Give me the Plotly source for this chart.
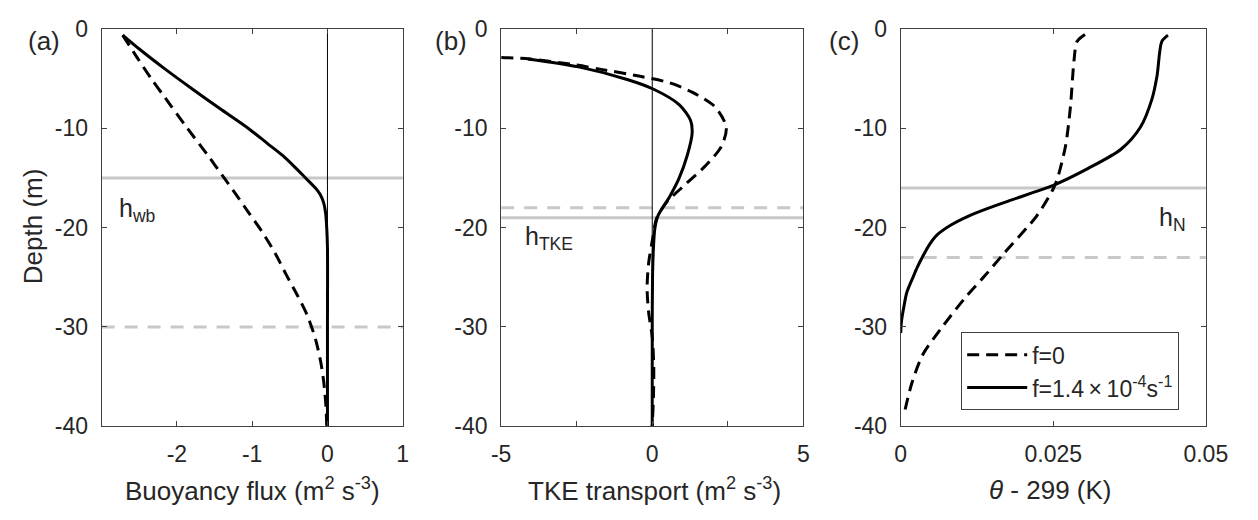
import plotly.graph_objects as go

# ---------------- data ----------------
# (a) buoyancy flux
depth_a_rot = [-0.6, -2.0, -4.0, -6.0, -8.0, -10.0, -11.5, -12.7, -14.0, -15.0, -16.0, -16.6, -17.5, -18.5, -20.0, -22.0, -30.0, -40.0]
bflux_rot = [-2.72, -2.50, -2.16, -1.80, -1.43, -1.05, -0.80, -0.60, -0.42, -0.29, -0.16, -0.10, -0.05, -0.025, -0.01, 0.0, 0.0, 0.0]
depth_a_f0 = [-0.6, -2.84, -5.0, -6.67, -10.0, -12.7, -14.8, -16.6, -18.5, -20.4, -22.5, -24.7, -26.8, -28.8, -31.2, -33.5, -35.5, -38.0, -40.0]
bflux_f0 = [-2.72, -2.53, -2.34, -2.18, -1.86, -1.59, -1.39, -1.22, -1.045, -0.87, -0.70, -0.55, -0.40, -0.27, -0.16, -0.09, -0.05, -0.02, -0.01]

# (b) TKE transport
depth_b_rot = [-3.0, -3.8, -5.07, -6.03, -7.6, -9.2, -10.5, -12.7, -15.0, -16.9, -18.8, -20.0, -22.0, -25.0, -30.0, -40.0]
tke_rot = [-4.11, -2.44, -0.83, 0.03, 0.89, 1.27, 1.32, 1.16, 0.89, 0.57, 0.19, 0.09, 0.04, 0.01, 0.0, 0.0]
depth_b_f0 = [-2.85, -3.0, -3.6, -4.05, -4.75, -5.4, -6.35, -7.8, -9.86, -11.8, -13.8, -15.6, -17.5, -19.1, -21.0, -23.6, -26.1, -28.5, -31.0, -34.0, -37.0, -40.0]
tke_f0 = [-5.0, -4.05, -2.55, -1.69, -0.40, 0.57, 1.32, 2.07, 2.45, 2.29, 1.75, 1.11, 0.46, 0.14, 0.02, -0.12, -0.17, -0.12, 0.0, 0.05, 0.04, 0.0]

# (c) potential temperature anomaly
depth_c_rot = [-0.6, -1.24, -4.75, -7.0, -9.86, -12.1, -14.0, -15.76, -16.5, -17.2, -18.0, -18.8, -19.7, -20.7, -21.7, -22.9, -24.0, -25.0, -26.5, -28.0, -29.5, -30.6]
theta_rot = [0.0438, 0.0428, 0.0420, 0.0412, 0.0393, 0.0361, 0.0308, 0.0249, 0.0215, 0.0182, 0.0145, 0.0112, 0.0083, 0.0060, 0.0047, 0.0036, 0.0027, 0.0020, 0.0010, 0.0005, 0.0001, 0.0]
depth_c_f0 = [-0.54, -1.24, -3.16, -7.9, -11.8, -15.0, -16.2, -18.8, -22.6, -24.9, -27.1, -30.0, -32.8, -35.7, -38.9]
theta_f0 = [0.0302, 0.0289, 0.0284, 0.0278, 0.0270, 0.0257, 0.0249, 0.0223, 0.0169, 0.0137, 0.0105, 0.0068, 0.0036, 0.0018, 0.0005]

# boundary-layer depths (solid: rotating, dashed: f=0)
h_wb = {"rot": -15.0, "f0": -30.0}
h_tke = {"rot": -19.0, "f0": -18.0}
h_n = {"rot": -16.0, "f0": -23.0}

y_ticks = [-40, -30, -20, -10, 0]
y_ticktext = ["-40", "-30", "-20", "-10", "0"]
xa_ticks = [-2, -1, 0, 1]
xa_ticktext = ["-2", "-1", "0", "1"]
xb_ticks = [-5, -2.5, 0, 2.5, 5]
xb_ticktext = ["-5", "", "0", "", "5"]
xc_ticks = [0, 0.025, 0.05]
xc_ticktext = ["0", "0.025", "0.05"]

legend_f0 = "f=0"
legend_rot = "f=1.4\u2009\u00d7\u200910<sup>-4</sup>s<sup>-1</sup>"

# ---------------- layout helpers ----------------
W, H = 1258, 520
def fx(px):
    return px / W
def fy(py):
    return 1 - py / H

FONT = "Liberation Sans, Arial, sans-serif"
TXT = "#262626"
AX = "#404040"
GRAY = "#c8c8c8"
LW = 3
DASH = "12px,7px"
GDASH = "13px,10px"

fig = go.Figure()

def curve(x, y, xa, ya, dashed, name, show):
    fig.add_trace(go.Scatter(
        x=x, y=y, xaxis=xa, yaxis=ya, mode="lines", name=name, showlegend=show,
        line=dict(color="black", width=LW, dash=DASH if dashed else "solid",
                  shape="spline", smoothing=0.8),
        hoverinfo="skip"))

curve(bflux_f0, depth_a_f0, "x", "y", True, legend_f0, False)
curve(bflux_rot, depth_a_rot, "x", "y", False, legend_rot, False)
curve(tke_f0, depth_b_f0, "x2", "y2", True, legend_f0, False)
curve(tke_rot, depth_b_rot, "x2", "y2", False, legend_rot, False)
curve(theta_f0, depth_c_f0, "x3", "y3", True, legend_f0, True)
curve(theta_rot, depth_c_rot, "x3", "y3", False, legend_rot, True)

# horizontal gray lines and zero lines
for xs, ys, hd in [("x", "y", h_wb), ("x2", "y2", h_tke), ("x3", "y3", h_n)]:
    fig.add_shape(type="line", xref=xs + " domain", yref=ys, x0=0, x1=1,
                  y0=hd["rot"], y1=hd["rot"], layer="below",
                  line=dict(color=GRAY, width=LW))
    fig.add_shape(type="line", xref=xs + " domain", yref=ys, x0=0, x1=1,
                  y0=hd["f0"], y1=hd["f0"], layer="below",
                  line=dict(color=GRAY, width=LW, dash=GDASH))
for xs, ys in [("x", "y"), ("x2", "y2")]:
    fig.add_shape(type="line", xref=xs, yref=ys + " domain", x0=0, x1=0,
                  y0=0, y1=1, layer="below", line=dict(color="black", width=1))

common_axis = dict(showline=True, linecolor=AX, linewidth=1, mirror="ticks",
                   ticks="inside", ticklen=5, tickcolor=AX, showgrid=False,
                   zeroline=False, tickfont=dict(family=FONT, size=23, color=TXT))

ydom = [fy(435), fy(17)]
doms = [[fx(94), fx(403)], [fx(504), fx(814)], [fx(914), fx(1227)]]

fig.update_layout(
    width=W, height=H, margin=dict(l=0, r=0, t=0, b=0),
    paper_bgcolor="white", plot_bgcolor="white",
    font=dict(family=FONT, color=TXT),
    xaxis=dict(domain=doms[0], range=[-3, 1], tickvals=xa_ticks, ticktext=xa_ticktext,
               anchor="y", ticklabelstandoff=7, **common_axis),
    yaxis=dict(domain=ydom, range=[-40, 0], tickvals=y_ticks, ticktext=y_ticktext,
               anchor="x", ticklabelstandoff=8, **common_axis),
    xaxis2=dict(domain=doms[1], range=[-5, 5], tickvals=xb_ticks, ticktext=xb_ticktext,
                anchor="y2", ticklabelstandoff=7, **common_axis),
    yaxis2=dict(domain=ydom, range=[-40, 0], tickvals=y_ticks, ticktext=y_ticktext,
                anchor="x2", ticklabelstandoff=8, **common_axis),
    xaxis3=dict(domain=doms[2], range=[0, 0.05], tickvals=xc_ticks, ticktext=xc_ticktext,
                anchor="y3", ticklabelstandoff=7, **common_axis),
    yaxis3=dict(domain=ydom, range=[-40, 0], tickvals=y_ticks, ticktext=y_ticktext,
                anchor="x3", ticklabelstandoff=8, **common_axis),
    legend=dict(x=fx(976), y=fy(336), xanchor="left", yanchor="top",
                bordercolor=AX, borderwidth=1, bgcolor="white",
                font=dict(family=FONT, size=23, color=TXT),
                itemwidth=60, tracegroupgap=0),
)

ann = []
def A(text, x, y, size, xanchor="center", yanchor="middle", angle=0, xref="paper", yref="paper"):
    ann.append(dict(text=text, x=x, y=y, xref=xref, yref=yref, showarrow=False,
                    xanchor=xanchor, yanchor=yanchor, textangle=angle,
                    font=dict(family=FONT, size=size, color=TXT)))

A("(a)", fx(16), fy(29), 26, xanchor="left")
A("(b)", fx(434), fy(29), 26, xanchor="left")
A("(c)", fx(838), fy(29), 26, xanchor="left")
A("Depth (m)", fx(23), fy(224), 26, angle=-90)
A("Buoyancy flux (m<sup>2</sup> s<sup>-3</sup>)", fx(249), fy(502), 26)
A("TKE transport (m<sup>2</sup> s<sup>-3</sup>)", fx(661), fy(502), 26)
A("<i>\u03b8</i> - 299 (K)", fx(1067), fy(502), 26)
A("h<sub>wb</sub>", -2.8, -18.2, 25, xanchor="left", xref="x", yref="y")
A("h<sub>TKE</sub>", -4.29, -21.0, 25, xanchor="left", xref="x2", yref="y2")
A("h<sub>N</sub>", 0.0420, -19.1, 25, xanchor="left", xref="x3", yref="y3")
fig.update_layout(annotations=ann)

fig.write_html("out.html", config={"displayModeBar": False},
               post_script="document.body.style.margin='0';document.body.style.overflow='hidden';")
